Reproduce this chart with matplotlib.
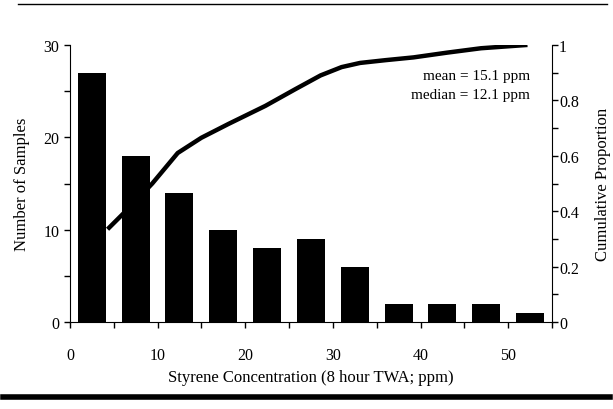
import matplotlib.pyplot as plt
from matplotlib.lines import Line2D
from matplotlib.ticker import MultipleLocator

plt.rcParams['font.family'] = ['Liberation Serif', 'DejaVu Serif']

# histogram bins (5 ppm wide) and counts
bin_centers = [2.5, 7.5, 12.5, 17.5, 22.5, 27.5, 32.5, 37.5, 42.5, 47.5, 52.5]
counts = [27, 18, 14, 10, 8, 9, 6, 2, 2, 2, 1]

# cumulative proportion curve
cum_x = [4.3, 7.0, 9.4, 12.3, 15.0, 18.1, 22.3, 25.7, 28.6, 31.0, 33.1, 36.0, 39.2, 43.0, 46.9, 52.2]
cum_p = [0.335, 0.42, 0.50, 0.61, 0.665, 0.715, 0.78, 0.84, 0.89, 0.92, 0.935, 0.945, 0.955, 0.972, 0.988, 1.0]

x_ticks = [0, 10, 20, 30, 40, 50]
left_ticks = [0, 10, 20, 30]
right_ticks = [0, 0.2, 0.4, 0.6, 0.8, 1]
right_labels = ['0', '0.2', '0.4', '0.6', '0.8', '1']

fig = plt.figure(figsize=(6.13, 4.10), dpi=100)
ax = fig.add_axes([0.114, 0.212, 0.7865, 0.676])

ax.bar(bin_centers, counts, width=3.2, color='black')
ax.set_xlim(0, 55)
ax.set_ylim(0, 30)
ax.set_xticks(x_ticks)
ax.xaxis.set_minor_locator(MultipleLocator(5))
ax.set_yticks(left_ticks)
ax.yaxis.set_minor_locator(MultipleLocator(5))
ax.tick_params(which='both', direction='out', length=4, width=1, labelsize=11.5)
ax.tick_params(axis='x', which='both', length=4, pad=14)
ax.spines['top'].set_visible(False)
ax.spines['right'].set_visible(False)
ax.set_ylabel('Number of Samples', fontsize=12, labelpad=10)
ax.set_xlabel('Styrene Concentration (8 hour TWA; ppm)', fontsize=12, labelpad=4)

ax2 = ax.twinx()
ax2.plot(cum_x, cum_p, color='black', lw=3.2, solid_capstyle='butt', solid_joinstyle='round')
ax2.set_ylim(0, 1)
ax2.set_yticks(right_ticks)
ax2.set_yticklabels(right_labels)
ax2.yaxis.set_minor_locator(MultipleLocator(0.1))
ax2.tick_params(which='both', direction='out', length=4, width=1, labelsize=11.5, pad=1)
ax2.spines['top'].set_visible(False)
ax2.spines['left'].set_visible(False)
ax2.spines['bottom'].set_visible(False)
ax2.set_ylabel('Cumulative Proportion', fontsize=12, labelpad=12)

ax2.text(0.955, 0.888, 'mean = 15.1 ppm', transform=ax2.transAxes,
         ha='right', va='center', fontsize=11)
ax2.text(0.955, 0.82, 'median = 12.1 ppm', transform=ax2.transAxes,
         ha='right', va='center', fontsize=11)

# page rules from the scan
fig.add_artist(Line2D([0.03, 0.99], [0.988, 0.988], color='black', lw=1))
fig.add_artist(Line2D([0.005, 0.995], [0.03, 0.03], color='black', lw=4))

fig.savefig('out.png', dpi=100)
